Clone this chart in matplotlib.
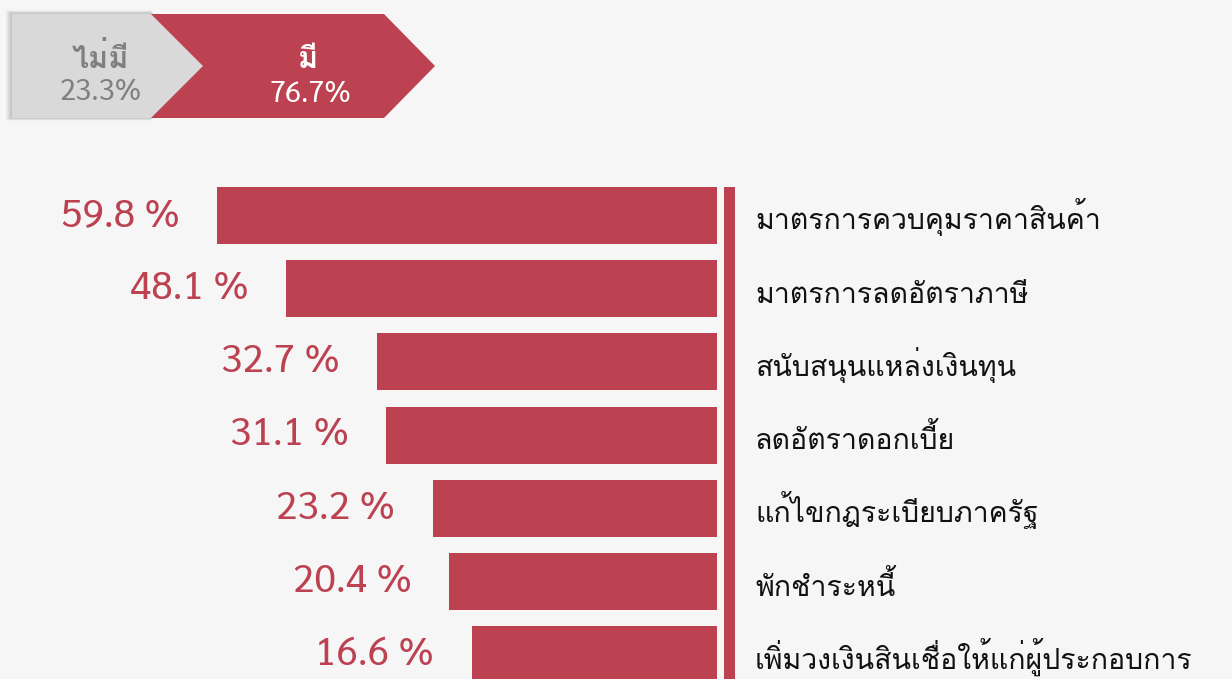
import matplotlib
matplotlib.use("Agg")
from matplotlib import pyplot as plt
from matplotlib import font_manager
from matplotlib.font_manager import FontProperties
from matplotlib.ft2font import FT2Font
from matplotlib.patches import Polygon, Rectangle
import numpy as np

# survey results
share_labels = ["ไม่มี", "มี"]
share_values = [23.3, 76.7]

measures = [
    "มาตรการควบคุมราคาสินค้า",
    "มาตรการลดอัตราภาษี",
    "สนับสนุนแหล่งเงินทุน",
    "ลดอัตราดอกเบี้ย",
    "แก้ไขกฎระเบียบภาครัฐ",
    "พักชำระหนี้",
    "เพิ่มวงเงินสินเชื่อให้แก่ผู้ประกอบการ",
]
measure_values = [59.8, 48.1, 32.7, 31.1, 23.2, 20.4, 16.6]

RED = "#bc4252"
GREY_BOX = "#d9d9d9"
GREY_TEXT = "#808080"
BG = "#f6f6f6"
PAD = 25  # funnel look: bars do not start at zero

UPPER_VOWELS = set("\u0e31\u0e34\u0e35\u0e36\u0e37\u0e47\u0e4d")
TONE_MARKS = set("\u0e48\u0e49\u0e4a\u0e4b\u0e4c")


def first_installed(candidates):
    names = {f.name for f in font_manager.fontManager.ttflist}
    for name in candidates:
        if name in names:
            return name
    return "DejaVu Sans"


# Loma keeps its tone marks above the upper vowels without any shaping,
# which matplotlib can't do
THAI_FONT = first_installed(["Loma", "Sarabun", "Noto Sans Thai Looped", "Noto Sans Thai"])
NUM_FONT = first_installed(["Sarabun", "Loma", "DejaVu Sans"])
plt.rcParams["font.family"] = [THAI_FONT, "DejaVu Sans"]


def tones_sit_high(path):
    ft = FT2Font(path, hinting_factor=1)
    ft.set_size(100, 72)
    return ft.load_char(0x0E48).bbox[1] >= ft.load_char(0x0E35).bbox[3] - 5 * 64


def thai_text(ax, x, y, s, size, color, weight="normal", ha="left"):
    prop = FontProperties(family=THAI_FONT, size=size, weight=weight)
    path = font_manager.findfont(prop)
    if tones_sit_high(path):
        ax.text(x, y, s, ha=ha, va="baseline", fontproperties=prop, color=color)
        return
    # fallback: lift tone marks that follow an upper vowel by hand
    font = FT2Font(path, hinting_factor=1)
    font.set_size(size, 100)
    adv = lambda c: font.load_char(ord(c)).linearHoriAdvance / 65536
    base, marks, pen = "", [], 0.0
    for i, ch in enumerate(s):
        if ch in TONE_MARKS and i > 0 and s[i - 1] in UPPER_VOWELS:
            marks.append((pen, ch))
            continue
        base += ch
        pen += adv(ch)
    x0 = x - pen / 2 if ha == "center" else x
    ax.text(x0, y, base, ha="left", va="baseline", fontproperties=prop, color=color)
    lift = 0.24 * size * 100 / 72
    sp = adv(" ")
    for px, ch in marks:
        ax.text(x0 + px - sp, y - lift, " " + ch, ha="left", va="baseline",
                fontproperties=prop, color=color)


W, H = 1232, 679
fig = plt.figure(figsize=(W / 100, H / 100), dpi=100, facecolor=BG)

# overlay in pixel coords for the decoration
bg = fig.add_axes([0, 0, 1, 1])
bg.set_xlim(0, W)
bg.set_ylim(H, 0)
bg.axis("off")

# header chevrons, soft shadow behind the grey one
for k in range(1, 7):
    bg.add_patch(Polygon([(12 - k, 14 - k * 0.6), (151, 14 - k * 0.6), (203, 66),
                          (151, 118 + k * 0.4), (12 - k, 118 + k * 0.4)],
                         closed=True, facecolor="black", alpha=0.035, edgecolor="none"))
bg.add_patch(Polygon([(12, 14), (151, 14), (203, 66), (151, 118), (12, 118)],
                     closed=True, facecolor=GREY_BOX, edgecolor="none"))
bg.add_patch(Polygon([(151, 14), (384, 14), (435, 66), (384, 118), (151, 118), (203, 66)],
                     closed=True, facecolor=RED, edgecolor="none"))
thai_text(bg, 100, 68, share_labels[0], 22, GREY_TEXT, weight="bold", ha="center")
bg.text(101, 92, f"{share_values[0]}%", ha="center", va="center", fontsize=21,
        color=GREY_TEXT, family=NUM_FONT)
thai_text(bg, 308, 68, share_labels[1], 22, "white", weight="bold", ha="center")
bg.text(310, 95, f"{share_values[1]}%", ha="center", va="center", fontsize=21,
        color="white", family=NUM_FONT)

# vertical divider
bg.add_patch(Rectangle((724, 187), 11, H - 187, facecolor=RED, edgecolor="none"))

# bars, growing to the left
row_px = 73.2
top_px = 215.5 - row_px / 2
n = len(measures)
ax_h = n * row_px
ax = fig.add_axes([217 / W, (H - top_px - ax_h) / H, 500 / W, ax_h / H])
ax.patch.set_alpha(0)
y = np.arange(n)
vals = np.array(measure_values)
ax.barh(y, vals + PAD, height=0.78, color=RED)
ax.set_xlim(0, vals.max() + PAD)
ax.invert_xaxis()
ax.set_ylim(n - 0.5, -0.5)
ax.axis("off")

for i, v in enumerate(vals):
    ax.annotate(f"{v} %", (v + PAD, i), xytext=(-27, 0), textcoords="offset points",
                ha="right", va="center", fontsize=28, color=RED, family=NUM_FONT,
                annotation_clip=False)
    thai_text(bg, 755, top_px + (i + 0.5) * row_px + 14, measures[i], 20.5, "#111111")

fig.savefig("out.png", dpi=100, facecolor=BG)
